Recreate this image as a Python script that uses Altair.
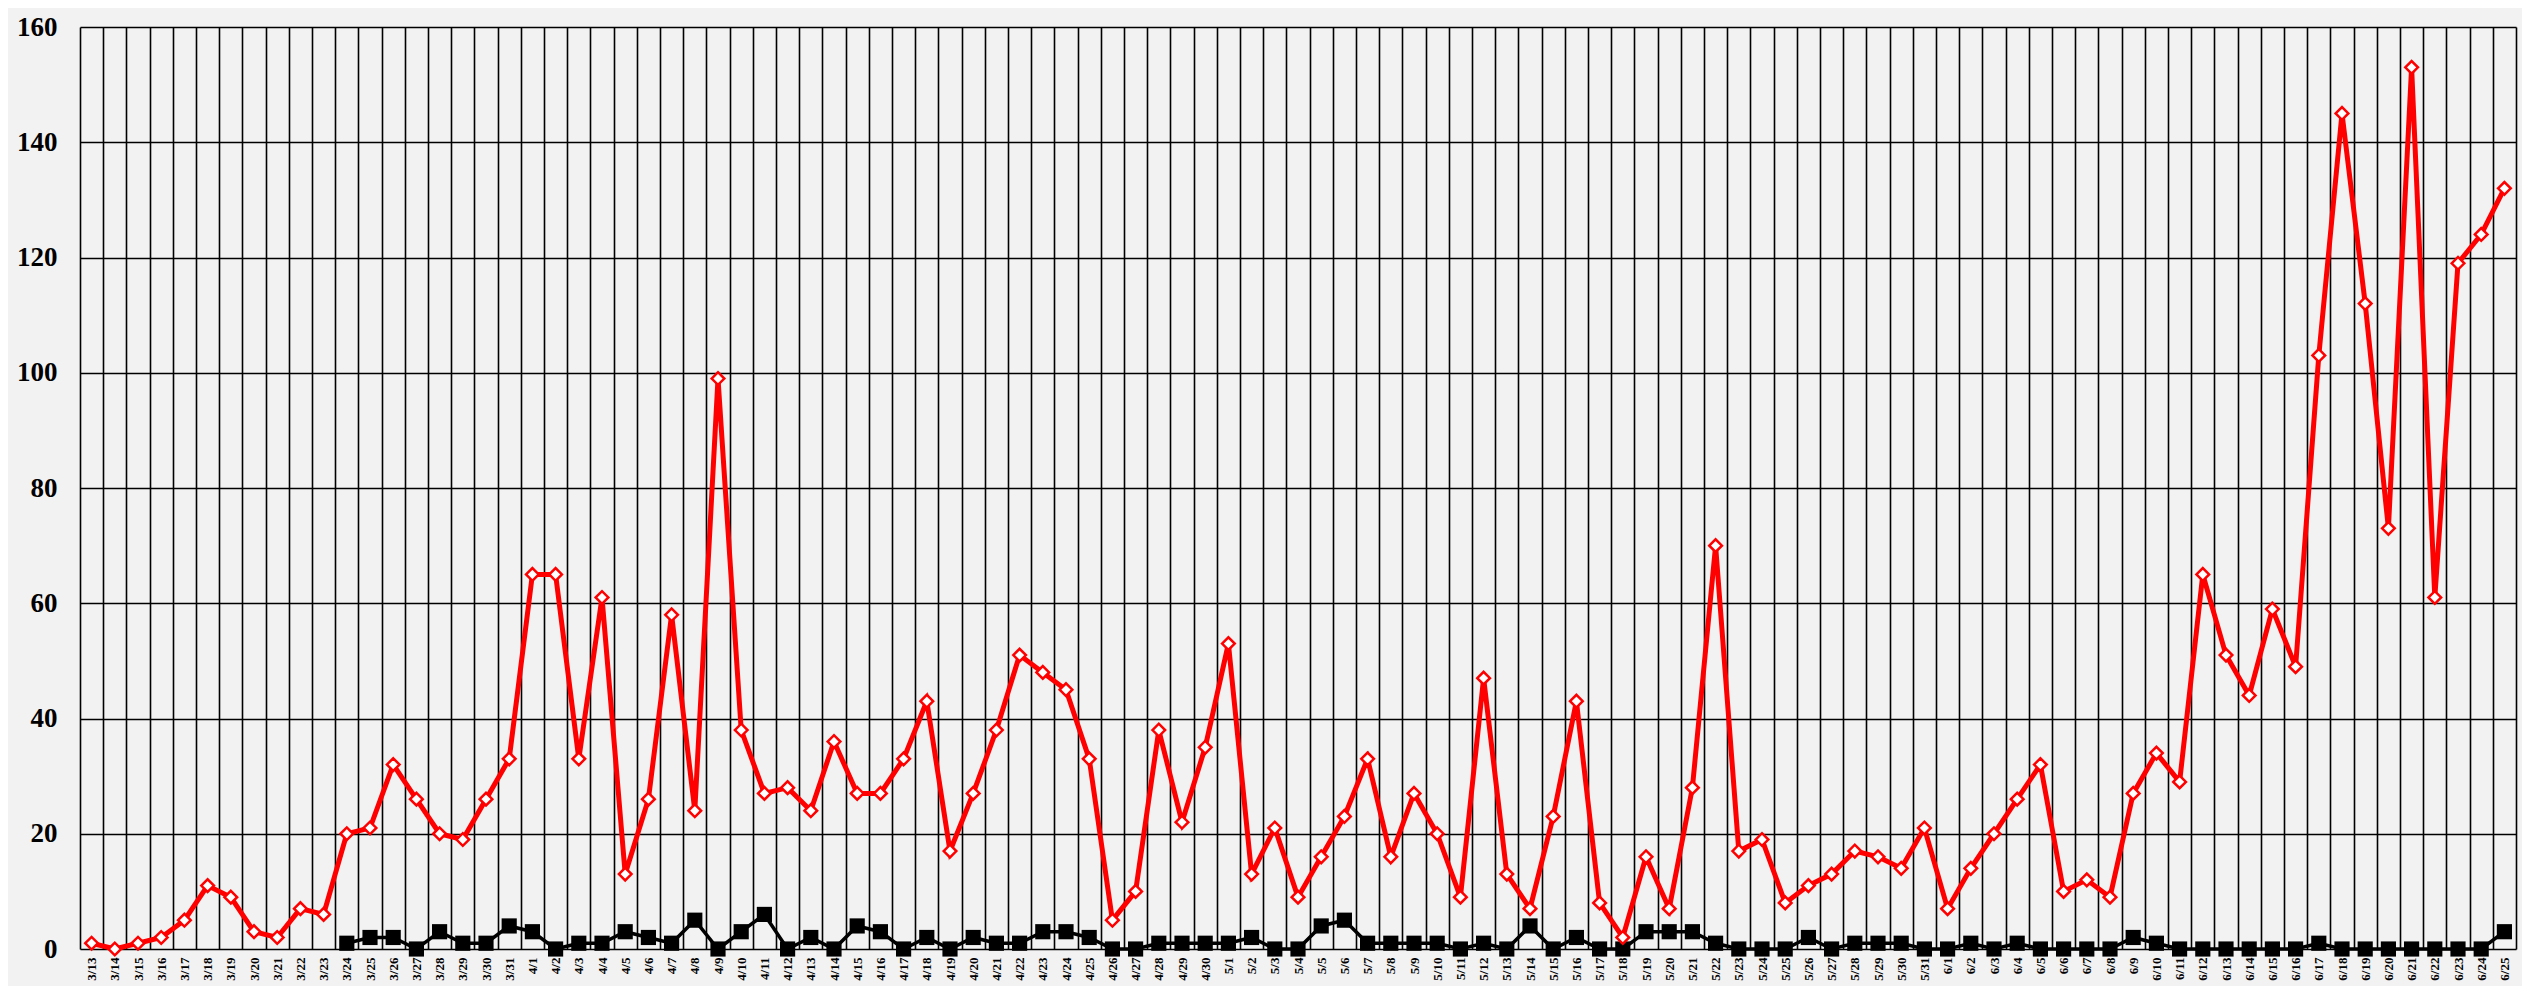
import altair as alt
import pandas as pd

dates = [
    "3/13", "3/14", "3/15", "3/16", "3/17", "3/18", "3/19", "3/20", "3/21", "3/22",
    "3/23", "3/24", "3/25", "3/26", "3/27", "3/28", "3/29", "3/30", "3/31",
    "4/1", "4/2", "4/3", "4/4", "4/5", "4/6", "4/7", "4/8", "4/9", "4/10",
    "4/11", "4/12", "4/13", "4/14", "4/15", "4/16", "4/17", "4/18", "4/19", "4/20",
    "4/21", "4/22", "4/23", "4/24", "4/25", "4/26", "4/27", "4/28", "4/29", "4/30",
    "5/1", "5/2", "5/3", "5/4", "5/5", "5/6", "5/7", "5/8", "5/9", "5/10",
    "5/11", "5/12", "5/13", "5/14", "5/15", "5/16", "5/17", "5/18", "5/19", "5/20",
    "5/21", "5/22", "5/23", "5/24", "5/25", "5/26", "5/27", "5/28", "5/29", "5/30", "5/31",
    "6/1", "6/2", "6/3", "6/4", "6/5", "6/6", "6/7", "6/8", "6/9", "6/10",
    "6/11", "6/12", "6/13", "6/14", "6/15", "6/16", "6/17", "6/18", "6/19", "6/20",
    "6/21", "6/22", "6/23", "6/24", "6/25",
]

red_values = [
    1, 0, 1, 2, 5, 11, 9, 3, 2, 7,
    6, 20, 21, 32, 26, 20, 19, 26, 33,
    65, 65, 33, 61, 13, 26, 58, 24, 99, 38,
    27, 28, 24, 36, 27, 27, 33, 43, 17, 27,
    38, 51, 48, 45, 33, 5, 10, 38, 22, 35,
    53, 13, 21, 9, 16, 23, 33, 16, 27, 20,
    9, 47, 13, 7, 23, 43, 8, 2, 16, 7,
    28, 70, 17, 19, 8, 11, 13, 17, 16, 14, 21,
    7, 14, 20, 26, 32, 10, 12, 9, 27, 34,
    29, 65, 51, 44, 59, 49, 103, 145, 112, 73,
    153, 61, 119, 124, 132,
]

black_values = [
    None, None, None, None, None, None, None, None, None, None,
    None, 1, 2, 2, 0, 3, 1, 1, 4,
    3, 0, 1, 1, 3, 2, 1, 5, 0, 3,
    6, 0, 2, 0, 4, 3, 0, 2, 0, 2,
    1, 1, 3, 3, 2, 0, 0, 1, 1, 1,
    1, 2, 0, 0, 4, 5, 1, 1, 1, 1,
    0, 1, 0, 4, 0, 2, 0, 0, 3, 3,
    3, 1, 0, 0, 0, 2, 0, 1, 1, 1, 0,
    0, 1, 0, 1, 0, 0, 0, 0, 2, 1,
    0, 0, 0, 0, 0, 0, 1, 0, 0, 0,
    0, 0, 0, 0, 3,
]

y_ticks = [0, 20, 40, 60, 80, 100, 120, 140, 160]

red_df = pd.DataFrame({"date": dates, "value": red_values})
black_df = pd.DataFrame({"date": dates, "value": black_values}).dropna()

serif = "Liberation Serif"

x_enc = alt.X(
    "date:O",
    sort=dates,
    bandPosition=0.5,
    scale=alt.Scale(type="band", domain=dates, paddingInner=0, paddingOuter=0),
    axis=alt.Axis(
        title=None,
        tickBand="extent",
        grid=True,
        gridColor="black",
        gridWidth=1.6,
        gridOpacity=1,
        ticks=False,
        domain=False,
        labelAngle=270,
        labelFont=serif,
        labelFontWeight="bold",
        labelFontSize=13,
        labelColor="black",
        labelPadding=8,
        labelOverlap=False,
        labelLimit=0,
    ),
)

y_enc = alt.Y(
    "value:Q",
    scale=alt.Scale(domain=[0, 160], nice=False),
    axis=alt.Axis(
        title=None,
        values=y_ticks,
        grid=True,
        gridColor="black",
        gridWidth=1.6,
        gridOpacity=1,
        ticks=False,
        domain=False,
        labelFont=serif,
        labelFontWeight="bold",
        labelFontSize=27,
        labelColor="black",
        labelPadding=23,
        labelFlush=False,
    ),
)

black_line = alt.Chart(black_df).mark_line(color="black", strokeWidth=3.5).encode(x=x_enc, y=y_enc)
black_pts = alt.Chart(black_df).mark_point(
    shape="square", filled=True, color="black", size=230, opacity=1
).encode(x=x_enc, y=y_enc)
red_line = alt.Chart(red_df).mark_line(color="#ff0000", strokeWidth=5).encode(x=x_enc, y=y_enc)
red_pts = alt.Chart(red_df).mark_point(
    shape="diamond", filled=True, fill="white", stroke="#ff0000", strokeWidth=2.5, size=160, opacity=1
).encode(x=x_enc, y=y_enc)

chart = (
    alt.layer(black_line, black_pts, red_line, red_pts)
    .properties(
        width=2436,
        height=922,
        background="#f2f2f2",
        padding={"left": 72, "top": 19, "right": 6, "bottom": 37},
        autosize=alt.AutoSizeParams(type="none"),
    )
    .configure_view(stroke=None, fill="#f2f2f2")
)

chart.save("out.html", embed_options={"renderer": "svg", "actions": False})
